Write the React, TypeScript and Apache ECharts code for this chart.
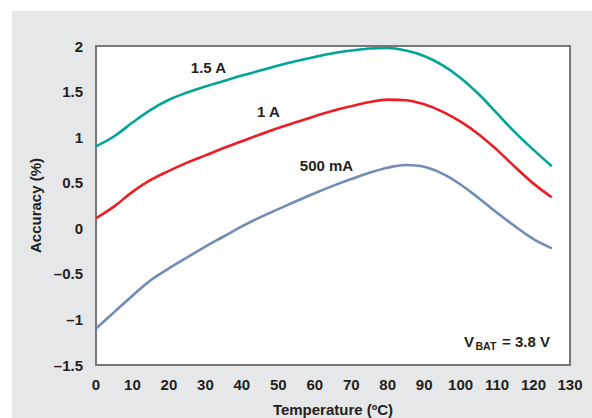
import React, { useEffect, useRef } from "react";
import * as echarts from "echarts";

const temperatures = [0, 5, 10, 15, 20, 25, 30, 35, 40, 45, 50, 55, 60, 65, 70, 75, 80, 85, 90, 95, 100, 105, 110, 115, 120, 125];
const acc1500mA = [0.90, 1.01, 1.16, 1.30, 1.41, 1.49, 1.555, 1.615, 1.675, 1.73, 1.785, 1.835, 1.88, 1.92, 1.95, 1.972, 1.978, 1.95, 1.89, 1.79, 1.65, 1.47, 1.26, 1.05, 0.86, 0.68];
const acc1A = [0.11, 0.24, 0.40, 0.53, 0.63, 0.72, 0.80, 0.88, 0.955, 1.03, 1.10, 1.165, 1.23, 1.29, 1.34, 1.385, 1.412, 1.405, 1.36, 1.28, 1.17, 1.03, 0.86, 0.67, 0.49, 0.34];
const acc500mA = [-1.10, -0.92, -0.74, -0.57, -0.44, -0.32, -0.20, -0.09, 0.02, 0.12, 0.21, 0.30, 0.385, 0.465, 0.54, 0.61, 0.665, 0.695, 0.675, 0.60, 0.48, 0.33, 0.17, 0.02, -0.12, -0.22];

const seriesNames = ["1.5 A", "1 A", "500 mA"];
const seriesColors = ["#00a499", "#ee1d24", "#6f8db5"];
const xTitle = "Temperature (ºC)";
const yTitle = "Accuracy (%)";

const FONT = "'Liberation Sans', Arial, sans-serif";

export default function App() {
  const ref = useRef<HTMLDivElement>(null);
  useEffect(() => {
    if (!ref.current) return;
    const chart = echarts.init(ref.current, null, { renderer: "svg" });
    const datasets = [acc1500mA, acc1A, acc500mA];
    const labelStyle = { fontFamily: FONT, fontWeight: "bold", fontSize: 15, fill: "#231f20" };
    chart.setOption({
      animation: false,
      backgroundColor: "#ffffff",
      textStyle: { fontFamily: FONT },
      grid: {
        left: 96,
        top: 46,
        right: 22,
        bottom: 53,
        outerBoundsMode: "none",
        containLabel: false,
        show: true,
        backgroundColor: "#ffffff",
        borderColor: "#777777",
        borderWidth: 2,
        z: 1,
      },
      xAxis: {
        type: "value",
        min: 0,
        max: 130,
        interval: 10,
        name: xTitle,
        nameLocation: "middle",
        nameGap: 37,
        nameTextStyle: { fontFamily: FONT, fontWeight: "bold", fontSize: 15, color: "#231f20" },
        axisLine: { show: false },
        axisTick: { show: false },
        splitLine: { show: false },
        axisLabel: { fontFamily: FONT, fontWeight: "bold", fontSize: 15, color: "#231f20", margin: 12 },
      },
      yAxis: {
        type: "value",
        min: -1.5,
        max: 2,
        interval: 0.5,
        name: yTitle,
        nameLocation: "middle",
        nameGap: 47,
        nameTextStyle: { fontFamily: FONT, fontWeight: "bold", fontSize: 15, color: "#231f20" },
        axisLine: { show: false },
        axisTick: { show: false },
        splitLine: { show: true, lineStyle: { color: "#aaaaaa", width: 1 } },
        axisLabel: {
          fontFamily: FONT,
          fontWeight: "bold",
          fontSize: 15,
          color: "#231f20",
          margin: 13,
          formatter: (v: number) => (v < 0 ? "\u2013" + String(Math.abs(v)) : String(v)),
        },
      },
      series: datasets.map((d, i) => ({
        type: "line",
        name: seriesNames[i],
        data: temperatures.map((t, j) => [t, d[j]]),
        smooth: 0.4,
        showSymbol: false,
        lineStyle: { color: seriesColors[i], width: 2.6 },
        z: 3,
      })),
      graphic: [
        {
          type: "rect",
          z: -10,
          shape: { x: 12, y: 11, width: 580, height: 407 },
          style: { fill: "#e6e7e8" },
        },
        { type: "text", z: 100, x: 208.5, y: 67.5, style: { ...labelStyle, text: seriesNames[0], textAlign: "center", textVerticalAlign: "middle" } },
        { type: "text", z: 100, x: 268.5, y: 111.5, style: { ...labelStyle, text: seriesNames[1], textAlign: "center", textVerticalAlign: "middle" } },
        { type: "text", z: 100, x: 326.5, y: 165, style: { ...labelStyle, text: seriesNames[2], textAlign: "center", textVerticalAlign: "middle" } },
        { type: "text", z: 100, x: 464, y: 341, style: { ...labelStyle, text: "V", textAlign: "left", textVerticalAlign: "middle" } },
        { type: "text", z: 100, x: 475.5, y: 346, style: { ...labelStyle, fontSize: 10.5, text: "BAT", textAlign: "left", textVerticalAlign: "middle" } },
        { type: "text", z: 100, x: 550, y: 341, style: { ...labelStyle, text: "= 3.8 V", textAlign: "right", textVerticalAlign: "middle" } },
      ],
    });
    return () => chart.dispose();
  }, []);
  return (
    <div
      ref={ref}
      style={{ position: "fixed", left: 0, top: 0, width: 592, height: 418 }}
    />
  );
}
